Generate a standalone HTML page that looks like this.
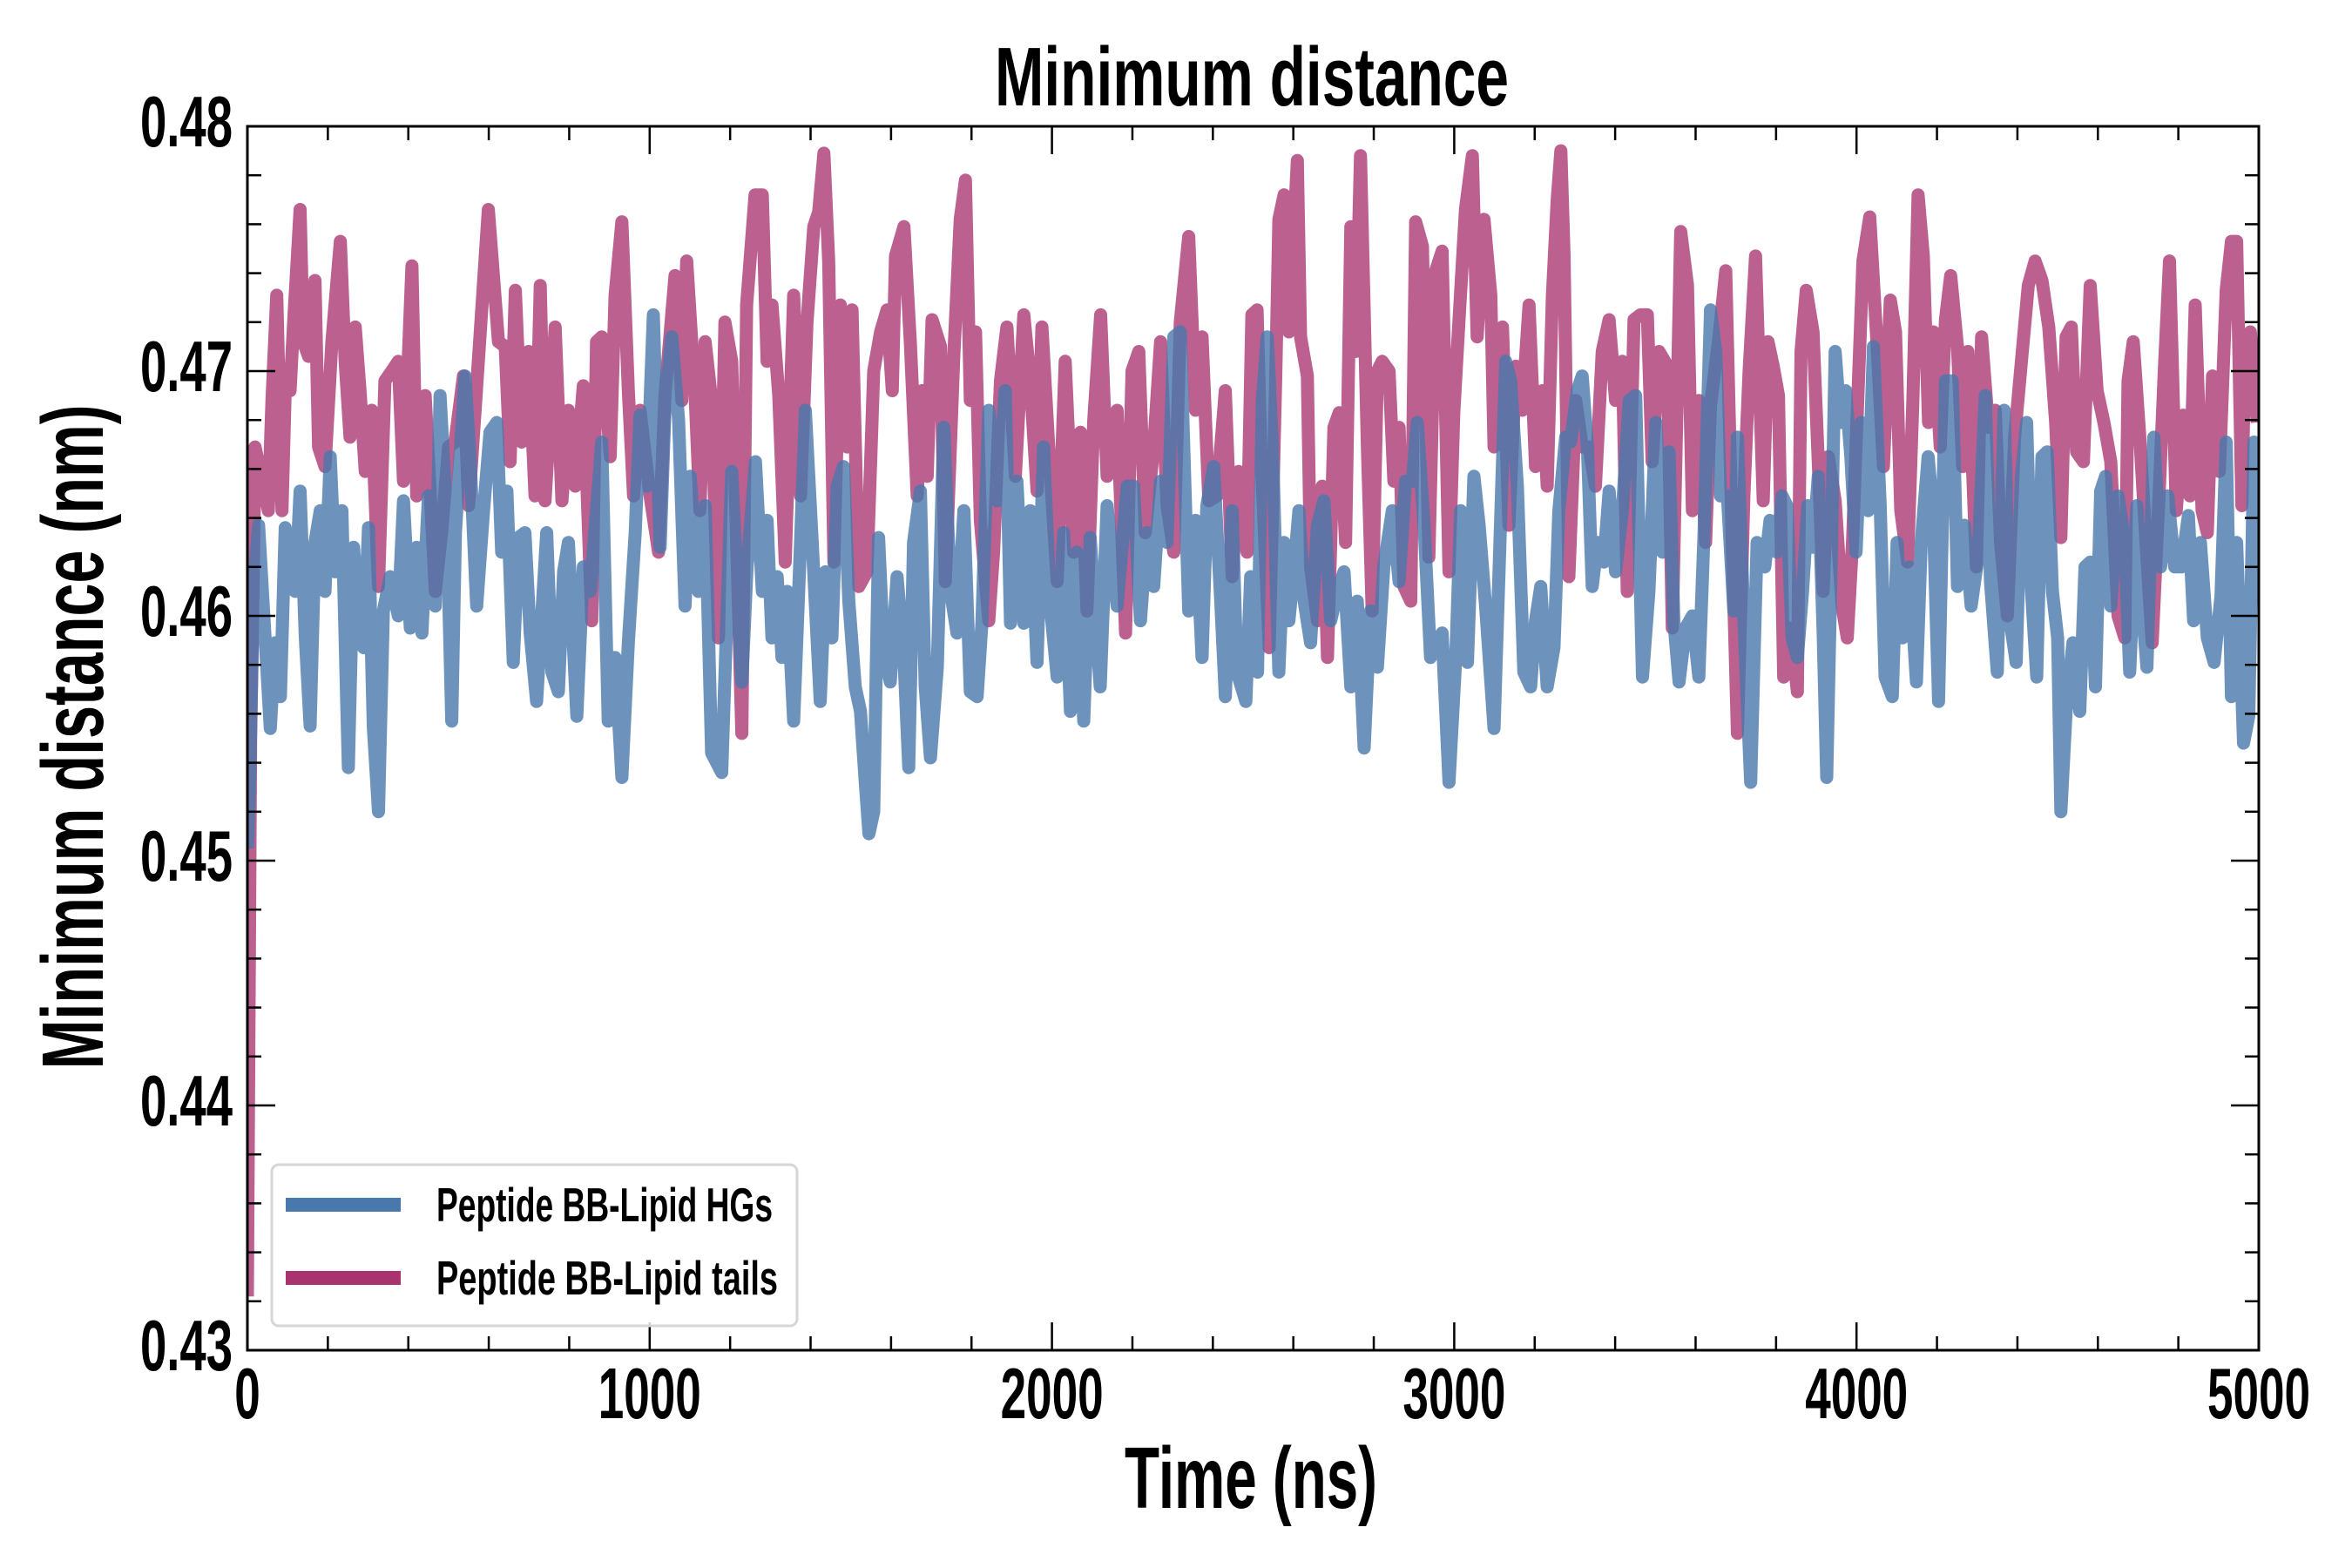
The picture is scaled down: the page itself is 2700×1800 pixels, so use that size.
<!DOCTYPE html>
<html><head><meta charset="utf-8"><style>
html,body{margin:0;padding:0;background:#fff;}
svg{display:block;}
text{font-family:"Liberation Sans",sans-serif;font-weight:bold;fill:#000;}
</style></head><body>
<svg id="chart" width="2700" height="1800" viewBox="0 0 2700 1800" xmlns="http://www.w3.org/2000/svg">
<rect width="2700" height="1800" fill="#fff"/>
<g id="series"></g>
<g id="axes"></g>
<text x="1437" y="121" font-size="96" text-anchor="middle" textLength="590" lengthAdjust="spacingAndGlyphs">Minimum distance</text>
<text x="1436" y="1731" font-size="100" text-anchor="middle" textLength="290" lengthAdjust="spacingAndGlyphs">Time (ns)</text>
<text transform="translate(118,846) rotate(-90)" x="0" y="0" font-size="100" text-anchor="middle" textLength="763" lengthAdjust="spacingAndGlyphs">Minimum distance (nm)</text>
<g>
<rect x="312" y="1337" width="603" height="185" rx="8" fill="#fff" fill-opacity="0.8" stroke="#d6d6d6" stroke-width="3"/>
<g>
<line x1="328" y1="1383" x2="460" y2="1383" stroke="#4878ac" stroke-width="16"/>
<text x="501" y="1402" font-size="55" textLength="386" lengthAdjust="spacingAndGlyphs">Peptide BB-Lipid HGs</text>
</g>
<g>
<line x1="328" y1="1467" x2="460" y2="1467" stroke="#a8336f" stroke-width="16"/>
<text x="501" y="1486" font-size="55" textLength="392" lengthAdjust="spacingAndGlyphs">Peptide BB-Lipid tails</text>
</g>
</g>
</svg>
<script>
const xTicks = [0, 1000, 2000, 3000, 4000, 5000];
const xTickLabels = ["0", "1000", "2000", "3000", "4000", "5000"];
const yTicks = [0.43, 0.44, 0.45, 0.46, 0.47, 0.48];
const yTickLabels = ["0.43", "0.44", "0.45", "0.46", "0.47", "0.48"];
const xDomain = [0, 5000];
const yDomain = [0.43, 0.48];

const tailsTime = [0,8,15,19,52,61,73,86,94,106,115,131,139,152,168,177,193,210,231,243,255,268,280,293,309,326,342,359,375,388,409,421,442,467,483,500,516,537,550,566,599,624,641,653,666,682,699,715,728,740,765,782,798,815,835,856,868,881,902,914,931,947,960,976,1001,1022,1038,1063,1080,1092,1113,1125,1138,1154,1171,1187,1204,1229,1241,1262,1280,1292,1304,1321,1337,1358,1375,1391,1408,1420,1433,1445,1458,1474,1491,1503,1520,1540,1557,1574,1590,1603,1611,1632,1648,1665,1677,1690,1702,1723,1735,1756,1772,1785,1797,1810,1822,1843,1855,1872,1888,1909,1930,1946,1963,1975,1992,2013,2033,2054,2071,2087,2104,2121,2137,2162,2183,2199,2216,2232,2253,2270,2286,2303,2319,2340,2357,2373,2390,2410,2431,2448,2464,2485,2497,2510,2519,2540,2556,2564,2577,2589,2610,2618,2635,2643,2660,2672,2685,2701,2714,2730,2743,2755,2767,2784,2796,2809,2821,2838,2850,2863,2875,2892,2904,2921,2937,2954,2970,2987,2999,3012,3028,3045,3057,3074,3091,3099,3120,3136,3153,3169,3186,3202,3219,3231,3244,3256,3265,3273,3285,3302,3318,3335,3351,3368,3385,3401,3418,3430,3447,3463,3480,3492,3509,3530,3542,3563,3580,3592,3608,3625,3637,3658,3675,3691,3704,3720,3733,3749,3768,3780,3793,3806,3819,3836,3853,3862,3875,3892,3905,3917,3930,3947,3964,3977,3990,4003,4016,4033,4050,4067,4084,4097,4110,4127,4140,4153,4166,4179,4191,4208,4221,4234,4251,4264,4277,4298,4311,4328,4345,4358,4375,4393,4410,4427,4444,4461,4478,4495,4508,4521,4534,4547,4564,4581,4598,4615,4632,4650,4667,4675,4688,4705,4718,4735,4752,4765,4778,4795,4812,4829,4842,4859,4872,4885,4902,4919,4932,4945,4958,4966,4979,4996];
const tailsValues = [0.4322,0.4550,0.4620,0.4669,0.4643,0.4688,0.4731,0.4643,0.4692,0.4692,0.4720,0.4766,0.4712,0.4706,0.4737,0.4669,0.4661,0.4712,0.4753,0.4704,0.4673,0.4718,0.4692,0.4659,0.4684,0.4612,0.4696,0.4700,0.4704,0.4655,0.4743,0.4649,0.4690,0.4610,0.4634,0.4669,0.4671,0.4698,0.4645,0.4684,0.4766,0.4712,0.4710,0.4663,0.4733,0.4671,0.4708,0.4649,0.4735,0.4647,0.4718,0.4647,0.4684,0.4653,0.4694,0.4598,0.4712,0.4714,0.4665,0.4731,0.4761,0.4692,0.4649,0.4684,0.4649,0.4626,0.4690,0.4739,0.4688,0.4745,0.4690,0.4643,0.4712,0.4688,0.4591,0.4720,0.4704,0.4552,0.4727,0.4772,0.4772,0.4704,0.4727,0.4690,0.4622,0.4731,0.4649,0.4720,0.4759,0.4765,0.4789,0.4745,0.4622,0.4727,0.4669,0.4725,0.4612,0.4618,0.4700,0.4716,0.4725,0.4692,0.4747,0.4759,0.4712,0.4649,0.4692,0.4657,0.4721,0.4710,0.4614,0.4706,0.4762,0.4778,0.4688,0.4716,0.4639,0.4598,0.4626,0.4696,0.4718,0.4657,0.4723,0.4696,0.4651,0.4718,0.4669,0.4614,0.4704,0.4626,0.4675,0.4602,0.4680,0.4723,0.4657,0.4684,0.4593,0.4700,0.4708,0.4634,0.4669,0.4712,0.4645,0.4626,0.4720,0.4755,0.4684,0.4714,0.4647,0.4649,0.4692,0.4616,0.4659,0.4626,0.4723,0.4725,0.4669,0.4587,0.4696,0.4762,0.4772,0.4716,0.4786,0.4714,0.4698,0.4620,0.4598,0.4653,0.4583,0.4677,0.4683,0.4630,0.4759,0.4708,0.4788,0.4669,0.4602,0.4700,0.4704,0.4700,0.4655,0.4677,0.4612,0.4606,0.4761,0.4751,0.4624,0.4741,0.4749,0.4618,0.4683,0.4721,0.4766,0.4788,0.4714,0.4762,0.4731,0.4669,0.4718,0.4637,0.4702,0.4684,0.4727,0.4661,0.4692,0.4653,0.4731,0.4770,0.4790,0.4747,0.4616,0.4688,0.4669,0.4669,0.4653,0.4708,0.4721,0.4688,0.4704,0.4610,0.4721,0.4723,0.4723,0.4663,0.4708,0.4702,0.4595,0.4757,0.4735,0.4643,0.4688,0.4630,0.4686,0.4714,0.4741,0.4630,0.4552,0.4649,0.4700,0.4747,0.4647,0.4712,0.4702,0.4690,0.4575,0.4595,0.4569,0.4708,0.4733,0.4716,0.4663,0.4610,0.4665,0.4647,0.4604,0.4591,0.4630,0.4688,0.4745,0.4763,0.4714,0.4661,0.4729,0.4716,0.4643,0.4622,0.4688,0.4772,0.4747,0.4679,0.4716,0.4669,0.4721,0.4739,0.4710,0.4661,0.4708,0.4620,0.4714,0.4677,0.4684,0.4630,0.4600,0.4673,0.4704,0.4735,0.4745,0.4737,0.4718,0.4679,0.4632,0.4714,0.4718,0.4667,0.4663,0.4735,0.4692,0.4679,0.4663,0.4600,0.4591,0.4696,0.4712,0.4671,0.4634,0.4589,0.4649,0.4700,0.4745,0.4643,0.4682,0.4649,0.4727,0.4643,0.4634,0.4698,0.4659,0.4733,0.4753,0.4753,0.4645,0.4714,0.4716,0.4679];

const hgsTime = [0,5,15,28,44,57,69,82,94,106,119,131,144,156,168,181,193,206,218,235,251,264,276,289,301,313,326,338,355,375,388,405,421,434,450,467,479,496,508,517,541,554,570,587,603,620,632,645,661,674,690,703,719,744,757,773,786,798,819,835,852,881,897,914,931,947,964,976,993,1009,1026,1038,1055,1072,1088,1101,1121,1138,1154,1179,1204,1229,1242,1263,1280,1292,1304,1317,1329,1342,1358,1375,1387,1404,1424,1437,1453,1466,1482,1495,1511,1524,1536,1545,1557,1569,1582,1598,1615,1632,1644,1656,1673,1685,1698,1715,1731,1748,1764,1781,1797,1814,1826,1843,1864,1884,1897,1913,1930,1946,1963,1979,1996,2013,2029,2046,2062,2079,2095,2120,2137,2162,2187,2203,2220,2236,2253,2270,2286,2303,2319,2340,2357,2373,2385,2402,2419,2431,2448,2460,2482,2494,2511,2523,2535,2548,2564,2577,2589,2602,2614,2627,2643,2660,2676,2693,2710,2726,2743,2759,2776,2792,2809,2825,2846,2863,2879,2896,2908,2925,2941,2954,2970,2987,3004,3016,3033,3049,3062,3078,3099,3115,3128,3140,3157,3173,3190,3202,3215,3231,3248,3260,3277,3289,3306,3318,3331,3343,3356,3372,3385,3401,3418,3435,3451,3468,3484,3501,3518,3534,3546,3559,3575,3592,3608,3621,3637,3650,3662,3679,3695,3704,3720,3737,3753,3772,3785,3802,3815,3827,3840,3853,3866,3879,3892,3905,3917,3926,3935,3947,3960,3973,3986,3999,4012,4029,4042,4059,4071,4089,4101,4114,4131,4149,4161,4178,4191,4204,4221,4238,4251,4268,4285,4302,4320,4333,4350,4367,4380,4397,4410,4423,4435,4448,4461,4474,4487,4500,4508,4521,4538,4555,4568,4581,4594,4607,4619,4632,4650,4667,4679,4697,4709,4722,4739,4756,4774,4791,4808,4825,4838,4855,4872,4889,4906,4919,4932,4945,4962,4975,4988,4996];
const hgsValues = [0.4505,0.4528,0.4610,0.4637,0.4591,0.4554,0.4589,0.4567,0.4636,0.4620,0.4610,0.4651,0.4591,0.4555,0.4630,0.4643,0.4610,0.4665,0.4618,0.4643,0.4538,0.4628,0.4598,0.4587,0.4636,0.4555,0.4520,0.4602,0.4616,0.4600,0.4647,0.4595,0.4628,0.4593,0.4649,0.4604,0.4690,0.4637,0.4557,0.4634,0.4698,0.4663,0.4604,0.4643,0.4675,0.4679,0.4626,0.4651,0.4581,0.4632,0.4634,0.4593,0.4565,0.4634,0.4577,0.4569,0.4618,0.4630,0.4559,0.4620,0.4610,0.4671,0.4557,0.4583,0.4534,0.4589,0.4634,0.4682,0.4653,0.4723,0.4628,0.4684,0.4714,0.4680,0.4604,0.4657,0.4610,0.4645,0.4544,0.4536,0.4659,0.4573,0.4620,0.4663,0.4610,0.4639,0.4591,0.4616,0.4583,0.4610,0.4557,0.4630,0.4684,0.4630,0.4565,0.4618,0.4591,0.4653,0.4661,0.4606,0.4571,0.4561,0.4532,0.4511,0.4520,0.4632,0.4585,0.4573,0.4616,0.4583,0.4538,0.4630,0.4651,0.4571,0.4542,0.4579,0.4677,0.4610,0.4593,0.4643,0.4569,0.4567,0.4597,0.4684,0.4647,0.4692,0.4597,0.4655,0.4597,0.4643,0.4581,0.4669,0.4604,0.4575,0.4634,0.4561,0.4626,0.4557,0.4632,0.4571,0.4645,0.4604,0.4653,0.4653,0.4598,0.4634,0.4612,0.4655,0.4630,0.4714,0.4716,0.4602,0.4639,0.4583,0.4645,0.4661,0.4608,0.4567,0.4643,0.4577,0.4565,0.4616,0.4577,0.4688,0.4714,0.4669,0.4577,0.4630,0.4598,0.4620,0.4643,0.4606,0.4589,0.4637,0.4647,0.4598,0.4610,0.4618,0.4571,0.4606,0.4546,0.4602,0.4579,0.4620,0.4643,0.4614,0.4655,0.4655,0.4679,0.4637,0.4583,0.4589,0.4593,0.4532,0.4583,0.4643,0.4581,0.4657,0.4637,0.4604,0.4554,0.4637,0.4704,0.4696,0.4653,0.4577,0.4571,0.4598,0.4612,0.4571,0.4587,0.4643,0.4673,0.4671,0.4692,0.4698,0.4669,0.4612,0.4630,0.4622,0.4651,0.4618,0.4643,0.4688,0.4690,0.4575,0.4610,0.4679,0.4626,0.4667,0.4598,0.4573,0.4595,0.4600,0.4575,0.4634,0.4725,0.4708,0.4649,0.4649,0.4602,0.4673,0.4598,0.4532,0.4630,0.4620,0.4639,0.4626,0.4649,0.4645,0.4591,0.4583,0.4610,0.4645,0.4628,0.4657,0.4593,0.4534,0.4606,0.4708,0.4679,0.4692,0.4665,0.4626,0.4679,0.4643,0.4710,0.4645,0.4575,0.4567,0.4630,0.4591,0.4620,0.4573,0.4630,0.4665,0.4641,0.4565,0.4696,0.4696,0.4612,0.4637,0.4604,0.4624,0.4690,0.4614,0.4577,0.4684,0.4600,0.4581,0.4657,0.4679,0.4610,0.4575,0.4665,0.4667,0.4610,0.4591,0.4520,0.4561,0.4589,0.4561,0.4620,0.4622,0.4571,0.4651,0.4657,0.4604,0.4649,0.4630,0.4577,0.4645,0.4606,0.4579,0.4673,0.4620,0.4649,0.4620,0.4620,0.4641,0.4598,0.4630,0.4591,0.4581,0.4608,0.4671,0.4567,0.4630,0.4548,0.4559,0.4671,0.4649];

const NS = "http://www.w3.org/2000/svg";
const plotLeft = 284, plotRight = 2593, plotTop = 145, plotBottom = 1550;
function xScale(t){ return plotLeft + (t - xDomain[0]) / (xDomain[1] - xDomain[0]) * (plotRight - plotLeft); }
function yScale(v){ return plotBottom - (v - yDomain[0]) / (yDomain[1] - yDomain[0]) * (plotBottom - plotTop); }

const seriesG = document.getElementById('series');
const axesG = document.getElementById('axes');

function pathFor(ts, vs){
  let d = '';
  for (let i = 0; i < ts.length; i++) d += (i ? 'L' : 'M') + xScale(ts[i]).toFixed(1) + ',' + yScale(vs[i]).toFixed(1);
  return d;
}

const clip = document.createElementNS(NS, 'clipPath');
clip.setAttribute('id', 'plotclip');
const cr = document.createElementNS(NS, 'rect');
cr.setAttribute('x', plotLeft); cr.setAttribute('y', plotTop);
cr.setAttribute('width', plotRight - plotLeft); cr.setAttribute('height', plotBottom - plotTop);
clip.appendChild(cr);
document.getElementById('chart').appendChild(clip);
seriesG.setAttribute('clip-path', 'url(#plotclip)');

const tailsPath = document.createElementNS(NS, 'path');


tailsPath.setAttribute('d', pathFor(tailsTime, tailsValues));
tailsPath.setAttribute('fill', 'none');
tailsPath.setAttribute('stroke', '#a8336f');
tailsPath.setAttribute('stroke-opacity', '0.78');
tailsPath.setAttribute('stroke-width', '15');
tailsPath.setAttribute('stroke-linejoin', 'round');
seriesG.appendChild(tailsPath);

const hgsPath = document.createElementNS(NS, 'path');


hgsPath.setAttribute('d', pathFor(hgsTime, hgsValues));
hgsPath.setAttribute('fill', 'none');
hgsPath.setAttribute('stroke', '#4878ac');
hgsPath.setAttribute('stroke-opacity', '0.8');
hgsPath.setAttribute('stroke-width', '15');
hgsPath.setAttribute('stroke-linejoin', 'round');
seriesG.appendChild(hgsPath);

function line(x1, y1, x2, y2, w, name){
  const l = document.createElementNS(NS, 'line');
  
  
  l.setAttribute('x1', x1); l.setAttribute('y1', y1); l.setAttribute('x2', x2); l.setAttribute('y2', y2);
  l.setAttribute('stroke', '#000'); l.setAttribute('stroke-width', w);
  axesG.appendChild(l);
}
for (let t = xDomain[0]; t <= xDomain[1]; t += 200) {
  const x = xScale(t);
  const major = t % 1000 === 0;
  const len = major ? 32 : 16;
  line(x, plotBottom, x, plotBottom - len, 2.5, 'x-tick');
  line(x, plotTop, x, plotTop + len, 2.5, 'x-tick-top');
}
for (let k = 0; k <= 25; k++) {
  const v = yDomain[0] + k * 0.002;
  const y = yScale(v);
  const major = k % 5 === 0;
  const len = major ? 32 : 16;
  line(plotLeft, y, plotLeft + len, y, 2.5, 'y-tick');
  line(plotRight, y, plotRight - len, y, 2.5, 'y-tick-right');
}
const frame = document.createElementNS(NS, 'rect');


frame.setAttribute('x', plotLeft); frame.setAttribute('y', plotTop);
frame.setAttribute('width', plotRight - plotLeft); frame.setAttribute('height', plotBottom - plotTop);
frame.setAttribute('fill', 'none'); frame.setAttribute('stroke', '#000'); frame.setAttribute('stroke-width', '3');
axesG.appendChild(frame);

for (let i = 0; i < xTicks.length; i++) {
  const tx = document.createElementNS(NS, 'text');
  
  
  tx.setAttribute('x', xScale(xTicks[i]));
  tx.setAttribute('y', 1628);
  tx.setAttribute('font-size', '83');
  tx.setAttribute('text-anchor', 'middle');
  tx.setAttribute('textLength', xTickLabels[i].length * 29.5);
  tx.setAttribute('lengthAdjust', 'spacingAndGlyphs');
  tx.textContent = xTickLabels[i];
  axesG.appendChild(tx);
}
for (let i = 0; i < yTicks.length; i++) {
  const ty = document.createElementNS(NS, 'text');
  
  
  ty.setAttribute('x', 267);
  ty.setAttribute('y', yScale(yTicks[i]) + 23);
  ty.setAttribute('font-size', '83');
  ty.setAttribute('text-anchor', 'end');
  ty.setAttribute('textLength', '106');
  ty.setAttribute('lengthAdjust', 'spacingAndGlyphs');
  ty.textContent = yTickLabels[i];
  axesG.appendChild(ty);
}
</script>
</body></html>
